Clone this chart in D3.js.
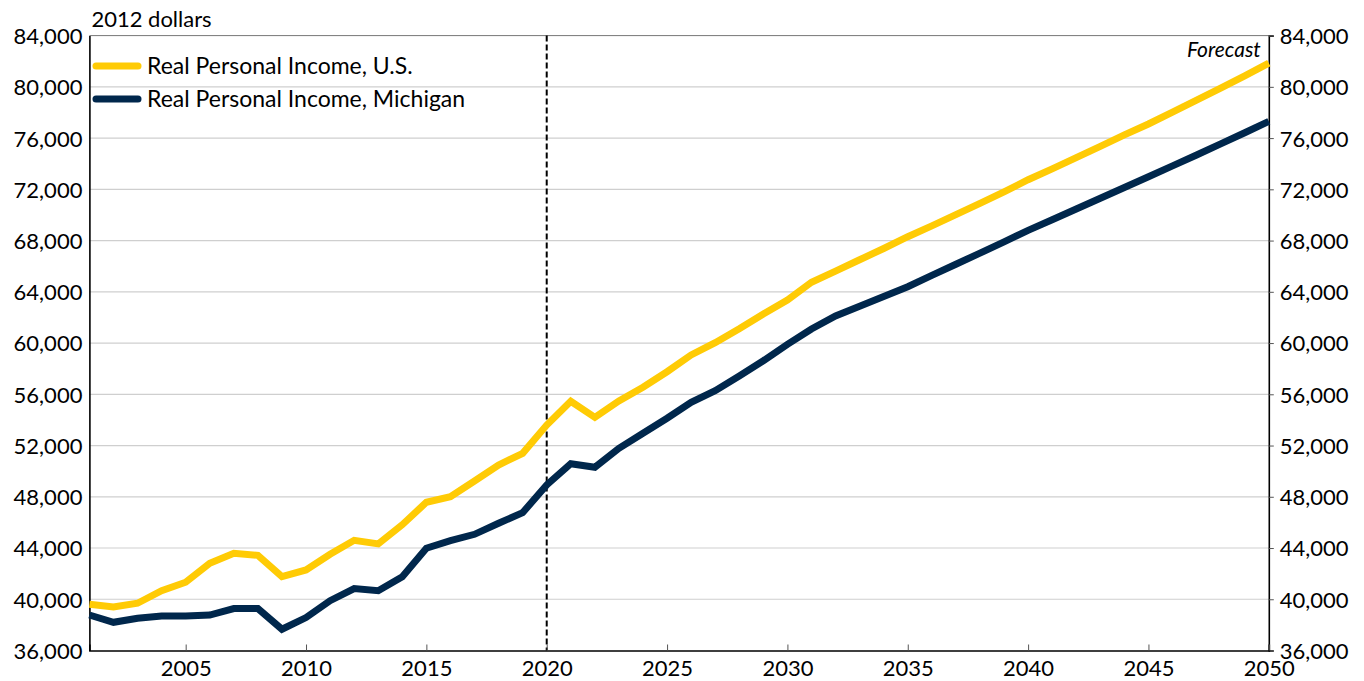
<!DOCTYPE html>
<html>
<head>
<meta charset="utf-8">
<script src="https://cdn.jsdelivr.net/npm/d3@7"></script>
<style>
  body { margin: 0; background: #fff; }
  text { font-family: Lato, "Open Sans", sans-serif; fill: #000; }
</style>
</head>
<body>
<div id="chart"></div>
<script>
/* DATA */
const years = d3.range(2001, 2051);

// Real personal income, U.S. (2012 dollars)
const usIncome = [
  39610, 39400, 39690, 40670, 41330, 42810, 43590, 43430, 41760, 42290,
  43510, 44600, 44320, 45820, 47570, 48010, 49230, 50480, 51390, 53600,
  55450, 54200, 55480, 56550, 57760, 59070, 60030, 61120, 62270, 63360,
  64750, 65620, 66500, 67380, 68300, 69150, 70030, 70900, 71800, 72750,
  73600, 74480, 75350, 76250, 77100, 78030, 78960, 79900, 80860, 81850
];

// Real personal income, Michigan (2012 dollars)
const miIncome = [
  38770, 38200, 38520, 38700, 38700, 38770, 39270, 39270, 37660, 38570,
  39890, 40830, 40670, 41760, 43980, 44570, 45070, 45930, 46760, 48920,
  50580, 50300, 51780, 52960, 54130, 55380, 56280, 57430, 58620, 59900,
  61100, 62120, 62870, 63630, 64400, 65280, 66150, 67020, 67900, 68800,
  69620, 70460, 71300, 72140, 72980, 73830, 74680, 75550, 76420, 77300
];

const seriesNames = ["Real Personal Income, U.S.", "Real Personal Income, Michigan"];
const seriesColors = ["#FFCB05", "#00274C"];
const yTicks = d3.range(36000, 84001, 4000);
const xTicks = d3.range(2005, 2051, 5);
const forecastYear = 2020;

/* LAYOUT */
const width = 1364, height = 681;
const margin = { top: 35.6, right: 95.2, bottom: 30.5, left: 89.4 };

const svg = d3.select("#chart").append("svg")
  .attr("width", width)
  .attr("height", height);

const x = d3.scaleLinear()
  .domain([2001, 2050])
  .range([margin.left, width - margin.right]);

const y = d3.scaleLinear()
  .domain([36000, 84000])
  .range([height - margin.bottom, margin.top]);

// gridlines
svg.append("g")
  .selectAll("line")
  .data(yTicks.slice(1, -1))
  .join("line")
  .attr("x1", x(2001)).attr("x2", x(2050))
  .attr("y1", d => y(d)).attr("y2", d => y(d))
  .attr("stroke", "#cfcfcf")
  .attr("stroke-width", 1.2);

// frame top
svg.append("line")
  .attr("x1", x(2001)).attr("x2", x(2050))
  .attr("y1", y(84000)).attr("y2", y(84000))
  .attr("stroke", "#777").attr("stroke-width", 1);

// forecast divider
svg.append("line")
  .attr("x1", x(forecastYear)).attr("x2", x(forecastYear))
  .attr("y1", y(84000)).attr("y2", y(36000))
  .attr("stroke", "#000")
  .attr("stroke-width", 2)
  .attr("stroke-dasharray", "6,3");

// axes
const fmt = d3.format(",");

const yLeft = svg.append("g")
  .attr("transform", `translate(${margin.left},0)`)
  .call(d3.axisLeft(y).tickValues(yTicks).tickFormat(fmt).tickSize(0).tickPadding(7));

const yRight = svg.append("g")
  .attr("transform", `translate(${width - margin.right},0)`)
  .call(d3.axisRight(y).tickValues(yTicks).tickFormat(fmt).tickSize(5).tickPadding(6));

const xAxis = svg.append("g")
  .attr("transform", `translate(0,${height - margin.bottom})`)
  .call(d3.axisBottom(x).tickValues(xTicks).tickFormat(d3.format("d")).tickSize(-6).tickPadding(10));

[yLeft, yRight, xAxis].forEach(g => {
  g.selectAll("text").style("font-size", "22px").attr("fill", "#000");
  g.select(".domain").attr("stroke", "#000").attr("stroke-width", 1.6);
  g.selectAll(".tick line").attr("stroke", "#555");
});
yLeft.selectAll("text").attr("dy", "0.36em");
yRight.selectAll("text").attr("dy", "0.36em");

// lines
const line = d3.line()
  .x((d, i) => x(years[i]))
  .y(d => y(d));

svg.append("g")
  .selectAll("path")
  .data([usIncome, miIncome])
  .join("path")
  .attr("d", line)
  .attr("fill", "none")
  .attr("stroke", (d, i) => seriesColors[i])
  .attr("stroke-width", 7)
  .attr("stroke-linejoin", "miter");

// unit label
svg.append("text")
  .attr("x", margin.left + 2)
  .attr("y", 27)
  .style("font-size", "22px")
  .text("2012 dollars");

// forecast label
svg.append("text")
  .attr("x", x(2050) - 8)
  .attr("y", 57)
  .attr("text-anchor", "end")
  .style("font-size", "21px")
  .style("font-style", "italic")
  .text("Forecast");

// legend
const legend = svg.append("g")
  .selectAll("g")
  .data(seriesNames)
  .join("g")
  .attr("transform", (d, i) => `translate(96,${66 + i * 33})`);

legend.append("line")
  .attr("x1", 0).attr("x2", 42)
  .attr("stroke", (d, i) => seriesColors[i])
  .attr("stroke-width", 7)
  .attr("stroke-linecap", "round");

legend.append("text")
  .attr("x", 51)
  .attr("dy", "0.36em")
  .style("font-size", "23px")
  .text(d => d);
</script>
</body>
</html>
